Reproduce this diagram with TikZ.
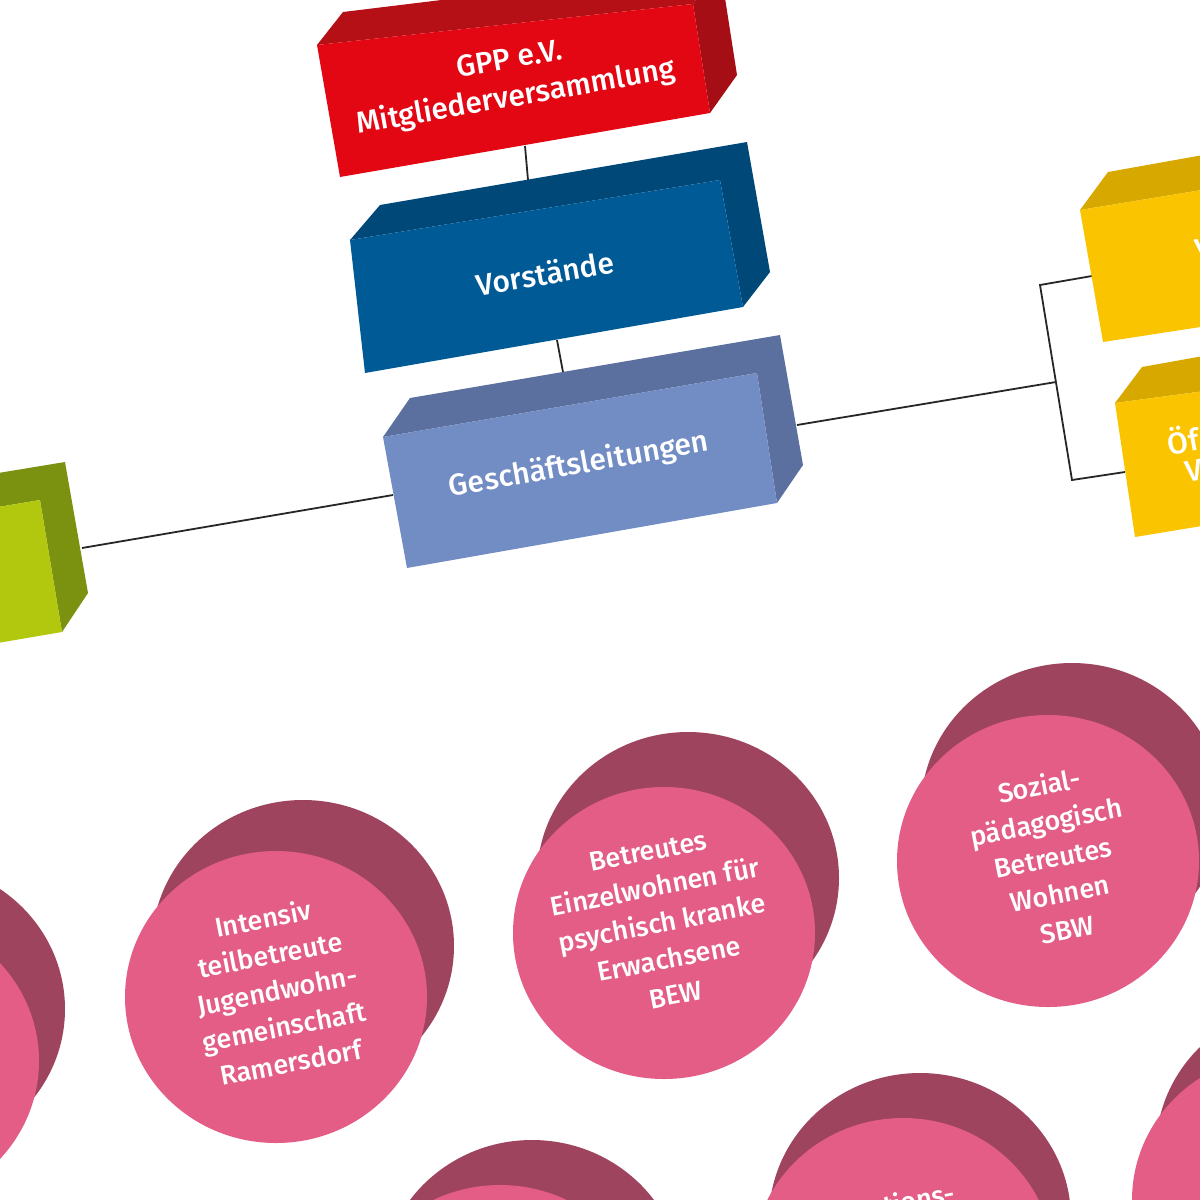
\documentclass[tikz,border=0pt]{standalone}
\usepackage{fontspec}
\setmainfont{Fira Sans}[BoldFont={Fira Sans Medium}]
\usepackage{xcolor}
\usepackage{tikz}

\definecolor{gppred}{HTML}{E30613}
\definecolor{gppredtop}{HTML}{B41016}
\definecolor{gppredside}{HTML}{A50E15}
\definecolor{vorblue}{HTML}{005A96}
\definecolor{vorbluedk}{HTML}{004878}
\definecolor{glblue}{HTML}{728CC4}
\definecolor{glbluedk}{HTML}{5C70A0}
\definecolor{grnfront}{HTML}{B2C80F}
\definecolor{grndk}{HTML}{7B9110}
\definecolor{yelfront}{HTML}{FBC400}
\definecolor{yeldk}{HTML}{D7A900}
\definecolor{pinkfront}{HTML}{E35D87}
\definecolor{pinkdk}{HTML}{9E445F}

\begin{document}
\begin{tikzpicture}[x=0.5pt,y=-0.5pt,
    boxtext/.style={text=white, font=\bfseries\fontsize{15}{19}\selectfont, align=center, rotate=10},
    circtext/.style={text=white, font=\bfseries\fontsize{13.5}{18.3}\selectfont, align=center, rotate=11},
    link/.style={black!85, line width=0.9pt}]
    \useasboundingbox (0,0) rectangle (1200,1200);
    \clip (0,0) rectangle (1200,1200);

    % Connectors
    \coordinate (gppS) at (525,146);
    \coordinate (vorN) at (528,180);
    \coordinate (vorS) at (557,340);
    \coordinate (glN) at (563,372);
    \coordinate (glE) at (797,425);
    \coordinate (glW) at (393,495);
    \coordinate (grnE) at (82,548);
    \coordinate (brT) at (1040,285);
    \coordinate (brM) at (1056,382);
    \coordinate (brB) at (1072,480);
    \coordinate (yelA) at (1092,276);
    \coordinate (yelB) at (1125,472);
    \draw[link] (gppS) -- (vorN);
    \draw[link] (vorS) -- (glN);
    \draw[link] (glW) -- (grnE);
    \draw[link] (glE) -- (brM);
    \draw[link] (yelA) -- (brT) -- (brB) -- (yelB);

    % GPP e.V.
    \fill[gppredtop] (317,45) -- (343,12) -- (720,-34) -- (693,4) -- cycle;
    \fill[gppredside] (693,4) -- (720,-34) -- (737,75) -- (710,113) -- cycle;
    \fill[gppred] (317,45) -- (693,4) -- (710,113) -- (340,177) -- cycle;
    \node[boxtext] (gpp) at (513,80) {GPP e.V.\\Mitgliederversammlung};

    % Vorstaende
    \fill[vorbluedk] (350,240) -- (380,205) -- (747,142) -- (770,272) -- (743,307) -- (720,180) -- cycle;
    \fill[vorblue] (350,240) -- (720,180) -- (743,307) -- (365,373) -- cycle;
    \node[boxtext] (vor) at (545,273) {Vorstände};

    % Geschaeftsleitungen
    \fill[glbluedk] (383,437) -- (410,398) -- (780,335) -- (803,465) -- (777,503) -- (757,373) -- cycle;
    \fill[glblue] (383,437) -- (757,373) -- (777,503) -- (407,568) -- cycle;
    \node[boxtext] (gl) at (579,465) {Geschäftsleitungen};

    % green box, left
    \fill[grndk] (-20,510) -- (-20,476) -- (65,462) -- (88,593) -- (62,632) -- (40,500) -- cycle;
    \fill[grnfront] (-20,510) -- (40,500) -- (62,632) -- (-20,646) -- cycle;

    % yellow boxes, right
    \fill[yeldk] (1080,210) -- (1108,172) -- (1220,152) -- (1220,187) -- cycle;
    \fill[yelfront] (1080,210) -- (1220,187) -- (1220,324) -- (1103,342) -- cycle;
    \node[boxtext, anchor=west, inner sep=0pt] (yelone) at (1195,250) {V};
    \fill[yeldk] (1115,403) -- (1142,367) -- (1220,353) -- (1220,389) -- cycle;
    \fill[yelfront] (1115,403) -- (1220,389) -- (1220,523) -- (1135,537) -- cycle;
    \node[boxtext, anchor=west, inner sep=0pt] (yeltwo) at (1167,442) {Öf};
    \node[boxtext, anchor=west, inner sep=0pt] (yelthree) at (1185,472) {V};

    % circles, upper row
    \fill[pinkdk] (-86,1009) ellipse [x radius=151, y radius=146];
    \fill[pinkfront] (-112,1061) ellipse [x radius=151, y radius=146];
    \fill[pinkdk] (303,946) ellipse [x radius=151, y radius=146];
    \fill[pinkfront] (276,997) ellipse [x radius=151, y radius=146];
    \node[circtext] (itj) at (277,990) {Intensiv\\teilbetreute\\Jugendwohn-\\gemeinschaft\\Ramersdorf};
    \fill[pinkdk] (688,878) ellipse [x radius=151, y radius=146];
    \fill[pinkfront] (664,933) ellipse [x radius=151, y radius=146];
    \node[circtext] (bew) at (662,923) {Betreutes\\Einzelwohnen für\\psychisch kranke\\Erwachsene\\BEW};
    \fill[pinkdk] (1072,809) ellipse [x radius=151, y radius=146];
    \fill[pinkfront] (1048,861) ellipse [x radius=151, y radius=146];
    \node[circtext] (sbw) at (1053,857) {Sozial-\\pädagogisch\\Betreutes\\Wohnen\\SBW};

    % circles, lower row
    \fill[pinkdk] (532,1286) ellipse [x radius=151, y radius=146];
    \fill[pinkfront] (500,1331) ellipse [x radius=151, y radius=146];
    \fill[pinkdk] (920,1219) ellipse [x radius=151, y radius=146];
    \fill[pinkfront] (903,1264) ellipse [x radius=151, y radius=146];
    \node[circtext, anchor=base] (tions) at (921,1209) {tions-};
    \fill[pinkdk] (1307,1150) ellipse [x radius=151, y radius=146];
    \fill[pinkfront] (1283,1200) ellipse [x radius=151, y radius=146];
\end{tikzpicture}
\end{document}
